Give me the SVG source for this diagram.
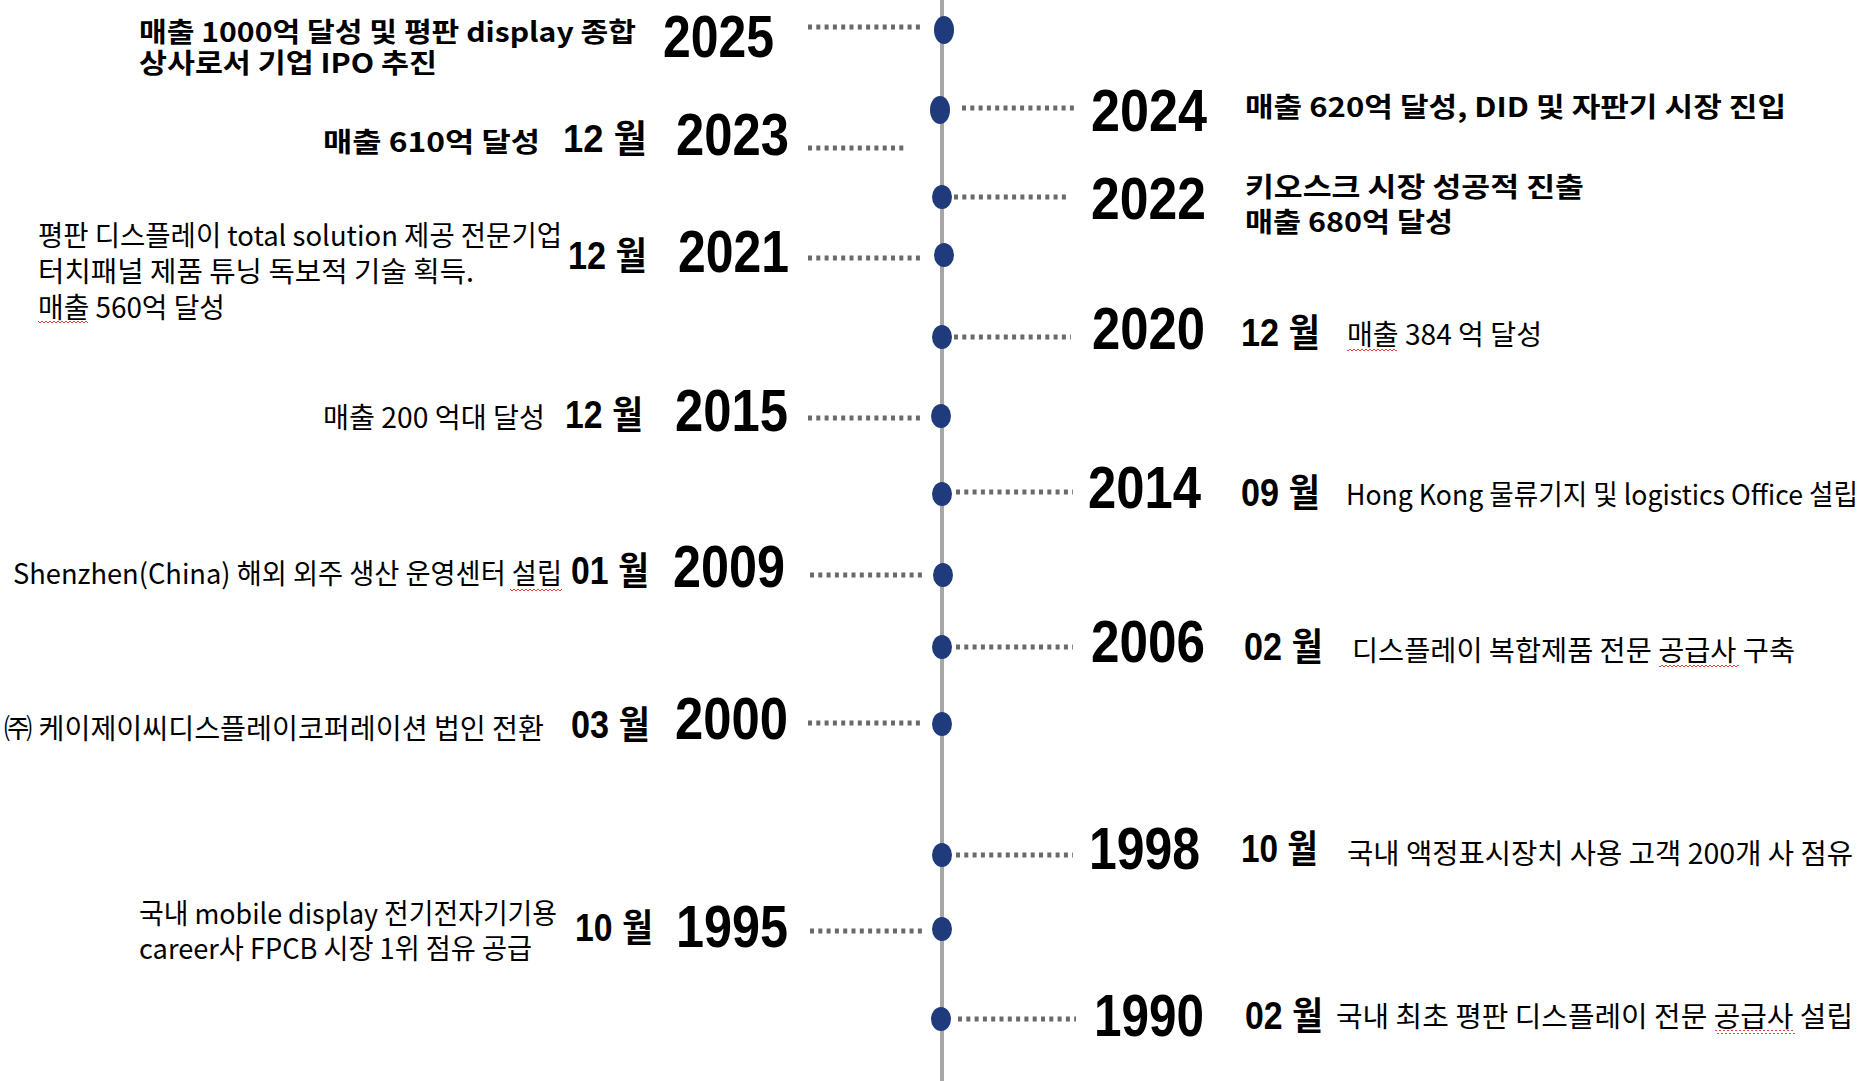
<svg xmlns="http://www.w3.org/2000/svg" width="1874" height="1081" viewBox="0 0 1874 1081">
<style>
.axis{stroke:#a6a6a6;stroke-width:4}
.lead{stroke:#6a6a6a;stroke-width:5;stroke-dasharray:4 4.3}
.dot{fill:#1f3b7c}
.yr{font-family:"Liberation Sans",Arial,sans-serif;font-weight:bold;font-size:60px;fill:#000}
.mo{font-family:"Liberation Sans","Noto Sans CJK KR",sans-serif;font-weight:bold;font-size:38px;fill:#000}
.db{font-family:"Noto Sans CJK KR",sans-serif;font-weight:bold;font-size:27px;fill:#000}
.dn{font-family:"Noto Sans CJK KR",sans-serif;font-weight:normal;font-size:28px;fill:#000}
</style>
<defs>
<pattern id="wave" width="4" height="4" patternUnits="userSpaceOnUse">
<path d="M0 3 L2 1 L4 3" fill="none" stroke="#e03030" stroke-width="0.9"/>
</pattern>
</defs>
<rect width="1874" height="1081" fill="#fff"/>
<line class="axis" x1="942" y1="0" x2="942" y2="1081"/>
<g id="connectors">
<line class="lead" x1="808" y1="27" x2="923" y2="27"/>
<line class="lead" x1="962" y1="108" x2="1076" y2="108"/>
<line class="lead" x1="808" y1="148" x2="906" y2="148"/>
<line class="lead" x1="954" y1="197" x2="1067" y2="197"/>
<line class="lead" x1="808" y1="258" x2="923" y2="258"/>
<line class="lead" x1="954" y1="337" x2="1071" y2="337"/>
<line class="lead" x1="808" y1="418" x2="921" y2="418"/>
<line class="lead" x1="956" y1="492" x2="1073" y2="492"/>
<line class="lead" x1="810" y1="575" x2="926" y2="575"/>
<line class="lead" x1="956" y1="647" x2="1073" y2="647"/>
<line class="lead" x1="808" y1="723" x2="921" y2="723"/>
<line class="lead" x1="956" y1="855" x2="1073" y2="855"/>
<line class="lead" x1="810" y1="931" x2="926" y2="931"/>
<line class="lead" x1="958" y1="1019" x2="1076" y2="1019"/>
</g>
<g id="n2025">
<ellipse class="dot" cx="944" cy="30" rx="10" ry="14"/>
<text class="yr" x="663" y="57" textLength="111" lengthAdjust="spacingAndGlyphs">2025</text>
<text class="db" x="139" y="42" textLength="497" lengthAdjust="spacingAndGlyphs">매출 1000억 달성 및 평판 display 종합</text>
<text class="db" x="139" y="73" textLength="298" lengthAdjust="spacingAndGlyphs">상사로서 기업 IPO 추진</text>
</g>
<g id="n2024">
<ellipse class="dot" cx="940" cy="110" rx="10" ry="14"/>
<text class="yr" x="1091" y="131" textLength="116" lengthAdjust="spacingAndGlyphs">2024</text>
<text class="db" x="1245" y="117" textLength="541" lengthAdjust="spacingAndGlyphs">매출 620억 달성, DID 및 자판기 시장 진입</text>
</g>
<g id="n2023">
<text class="yr" x="676" y="155" textLength="113" lengthAdjust="spacingAndGlyphs">2023</text>
<text class="mo" x="563" y="152" textLength="84" lengthAdjust="spacingAndGlyphs">12 월</text>
<text class="db" x="323" y="152" textLength="217" lengthAdjust="spacingAndGlyphs">매출 610억 달성</text>
</g>
<g id="n2022">
<ellipse class="dot" cx="942" cy="197" rx="10" ry="12"/>
<text class="yr" x="1091" y="219" textLength="115" lengthAdjust="spacingAndGlyphs">2022</text>
<text class="db" x="1245" y="197" textLength="339" lengthAdjust="spacingAndGlyphs">키오스크 시장 성공적 진출</text>
<text class="db" x="1245" y="232" textLength="208" lengthAdjust="spacingAndGlyphs">매출 680억 달성</text>
</g>
<g id="n2021">
<ellipse class="dot" cx="944" cy="255" rx="10" ry="12"/>
<text class="yr" x="678" y="272" textLength="111" lengthAdjust="spacingAndGlyphs">2021</text>
<text class="mo" x="568" y="269" textLength="79" lengthAdjust="spacingAndGlyphs">12 월</text>
<text class="dn" x="38" y="246" textLength="524" lengthAdjust="spacingAndGlyphs">평판 디스플레이 total solution 제공 전문기업</text>
<text class="dn" x="38" y="282" textLength="436" lengthAdjust="spacingAndGlyphs">터치패널 제품 튜닝 독보적 기술 획득.</text>
<text class="dn" x="38" y="318" textLength="187" lengthAdjust="spacingAndGlyphs">매출 560억 달성</text>
<rect x="38" y="321" width="50" height="4" fill="url(#wave)"/>
</g>
<g id="n2020">
<ellipse class="dot" cx="942" cy="337" rx="10" ry="12"/>
<text class="yr" x="1092" y="349" textLength="113" lengthAdjust="spacingAndGlyphs">2020</text>
<text class="mo" x="1241" y="346" textLength="79" lengthAdjust="spacingAndGlyphs">12 월</text>
<text class="dn" x="1347" y="345" textLength="195" lengthAdjust="spacingAndGlyphs">매출 384 억 달성</text>
<rect x="1347" y="348" width="50" height="4" fill="url(#wave)"/>
</g>
<g id="n2015">
<ellipse class="dot" cx="941" cy="416" rx="10" ry="12"/>
<text class="yr" x="675" y="431" textLength="113" lengthAdjust="spacingAndGlyphs">2015</text>
<text class="mo" x="565" y="428" textLength="78" lengthAdjust="spacingAndGlyphs">12 월</text>
<text class="dn" x="323" y="428" textLength="222" lengthAdjust="spacingAndGlyphs">매출 200 억대 달성</text>
</g>
<g id="n2014">
<ellipse class="dot" cx="942" cy="494" rx="10" ry="12"/>
<text class="yr" x="1088" y="508" textLength="113" lengthAdjust="spacingAndGlyphs">2014</text>
<text class="mo" x="1241" y="506" textLength="79" lengthAdjust="spacingAndGlyphs">09 월</text>
<text class="dn" x="1346" y="505" textLength="512" lengthAdjust="spacingAndGlyphs">Hong Kong 물류기지 및 logistics Office 설립</text>
</g>
<g id="n2009">
<ellipse class="dot" cx="943" cy="575" rx="10" ry="12"/>
<text class="yr" x="673" y="587" textLength="112" lengthAdjust="spacingAndGlyphs">2009</text>
<text class="mo" x="571" y="584" textLength="78" lengthAdjust="spacingAndGlyphs">01 월</text>
<text class="dn" x="13" y="584" textLength="549" lengthAdjust="spacingAndGlyphs">Shenzhen(China) 해외 외주 생산 운영센터 설립</text>
<rect x="510" y="587" width="52" height="4" fill="url(#wave)"/>
</g>
<g id="n2006">
<ellipse class="dot" cx="942" cy="647" rx="10" ry="12"/>
<text class="yr" x="1091" y="662" textLength="114" lengthAdjust="spacingAndGlyphs">2006</text>
<text class="mo" x="1244" y="660" textLength="79" lengthAdjust="spacingAndGlyphs">02 월</text>
<text class="dn" x="1352" y="661" textLength="443" lengthAdjust="spacingAndGlyphs">디스플레이 복합제품 전문 공급사 구축</text>
<rect x="1659" y="664" width="80" height="4" fill="url(#wave)"/>
</g>
<g id="n2000">
<ellipse class="dot" cx="942" cy="724" rx="10" ry="12"/>
<text class="yr" x="675" y="739" textLength="113" lengthAdjust="spacingAndGlyphs">2000</text>
<text class="mo" x="571" y="738" textLength="79" lengthAdjust="spacingAndGlyphs">03 월</text>
<text class="dn" x="4" y="739" textLength="540" lengthAdjust="spacingAndGlyphs">㈜ 케이제이씨디스플레이코퍼레이션 법인 전환</text>
</g>
<g id="n1998">
<ellipse class="dot" cx="942" cy="855" rx="10" ry="12"/>
<text class="yr" x="1089" y="869" textLength="111" lengthAdjust="spacingAndGlyphs">1998</text>
<text class="mo" x="1241" y="862" textLength="77" lengthAdjust="spacingAndGlyphs">10 월</text>
<text class="dn" x="1347" y="864" textLength="506" lengthAdjust="spacingAndGlyphs">국내 액정표시장치 사용 고객 200개 사 점유</text>
</g>
<g id="n1995">
<ellipse class="dot" cx="942" cy="929" rx="10" ry="12"/>
<text class="yr" x="676" y="947" textLength="112" lengthAdjust="spacingAndGlyphs">1995</text>
<text class="mo" x="575" y="941" textLength="78" lengthAdjust="spacingAndGlyphs">10 월</text>
<text class="dn" x="139" y="924" textLength="418" lengthAdjust="spacingAndGlyphs">국내 mobile display 전기전자기기용</text>
<text class="dn" x="139" y="959" textLength="393" lengthAdjust="spacingAndGlyphs">career사 FPCB 시장 1위 점유 공급</text>
</g>
<g id="n1990">
<ellipse class="dot" cx="941" cy="1019" rx="10" ry="12"/>
<text class="yr" x="1094" y="1036" textLength="110" lengthAdjust="spacingAndGlyphs">1990</text>
<text class="mo" x="1245" y="1029" textLength="78" lengthAdjust="spacingAndGlyphs">02 월</text>
<text class="dn" x="1336" y="1027" textLength="517" lengthAdjust="spacingAndGlyphs">국내 최초 평판 디스플레이 전문 공급사 설립</text>
<rect x="1715" y="1030" width="80" height="4" fill="url(#wave)"/>
</g>
</svg>
